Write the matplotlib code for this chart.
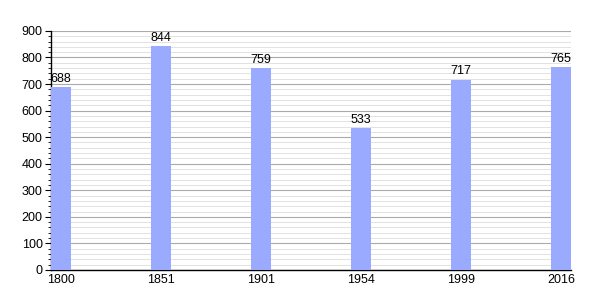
import numpy as np
import matplotlib.pyplot as plt
from matplotlib.ticker import MultipleLocator

plt.rcParams['font.family'] = ['Liberation Sans', 'DejaVu Sans']

# Population by year
years = ['1800', '1851', '1901', '1954', '1999', '2016']
population = [688, 844, 759, 533, 717, 765]

fig = plt.figure(figsize=(6, 3), dpi=100)
ax = fig.add_axes([0.085, 0.1, 0.867, 0.797])

x = np.arange(len(years))
bars = ax.bar(x, population, width=0.2, color='#99aaff', zorder=3)

# value labels above bars
for xi, v in zip(x, population):
    ax.text(xi, v + 8, str(v), ha='center', va='bottom', fontsize=9)

ax.set_xlim(-0.1, len(years) - 0.9)
ax.set_ylim(0, 900)
ax.set_xticks(x)
ax.set_xticklabels(years, fontsize=9)
ax.yaxis.set_major_locator(MultipleLocator(100))
ax.yaxis.set_minor_locator(MultipleLocator(20))
ax.tick_params(axis='y', labelsize=9, length=4, width=0.8, pad=2)
ax.tick_params(axis='y', which='minor', length=2, width=0.6)
ax.tick_params(axis='x', length=0, pad=3)

ax.grid(axis='y', which='major', color='#aaaaaa', linewidth=0.8, zorder=0)
ax.grid(axis='y', which='minor', color='#dddddd', linewidth=0.6, zorder=0)

ax.spines['top'].set_visible(False)
ax.spines['right'].set_visible(False)
ax.spines['left'].set_linewidth(1)
ax.spines['bottom'].set_linewidth(1)

fig.savefig('out.png', dpi=100)
